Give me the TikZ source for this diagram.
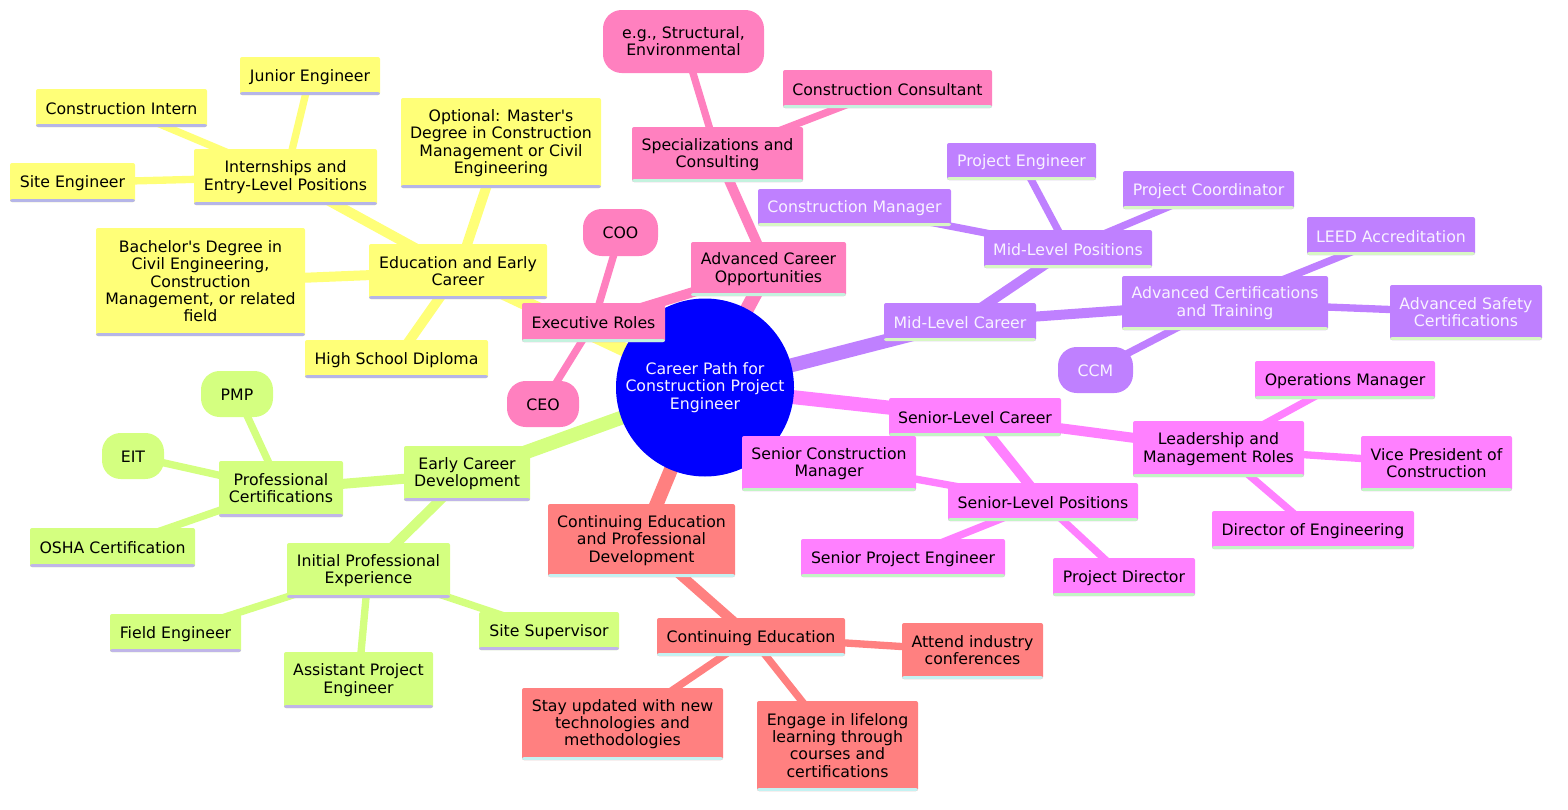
\documentclass[tikz,border=0pt]{standalone}
\usepackage{fontspec}
\setmainfont{DejaVu Sans}
\usetikzlibrary{backgrounds}

\definecolor{yellowfill}{HTML}{FFFF78}
\definecolor{yellowline}{HTML}{B5B5E8}
\definecolor{pinkfill}{HTML}{FF80BF}
\definecolor{pinkline}{HTML}{C4F2DE}
\definecolor{purplefill}{HTML}{BF80FF}
\definecolor{purpleline}{HTML}{D8F7C4}
\definecolor{magentafill}{HTML}{FF80FF}
\definecolor{magentaline}{HTML}{C2F5C4}
\definecolor{salmonfill}{HTML}{FF8080}
\definecolor{salmonline}{HTML}{C4F2F2}
\definecolor{greenfill}{HTML}{D4FF80}
\definecolor{greenline}{HTML}{C0B5E8}
\definecolor{rootblue}{HTML}{0000FF}
\definecolor{paletext}{HTML}{F8F2FF}

\tikzset{
	boxsize/.style 2 args={minimum width=#1*0.75pt,minimum height=#2*0.75pt},
	careertext/.style={align=center,font=\fontsize{11.8}{13}\selectfont,
		execute at begin node={\rule{0pt}{10.6pt}},execute at end node={\rule[-1pt]{0pt}{1pt}}},
	careerbox/.style 2 args={careertext,fill=#1,rounded corners=1.5pt,inner sep=0pt,outer sep=0pt,
		path picture={\fill [#2] ([yshift=2.2pt]path picture bounding box.south west) rectangle (path picture bounding box.south east);}},
	yellowbox/.style={careerbox={yellowfill}{yellowline}},
	pinkbox/.style={careerbox={pinkfill}{pinkline}},
	purplebox/.style={careerbox={purplefill}{purpleline},text=paletext},
	magentabox/.style={careerbox={magentafill}{magentaline}},
	salmonbox/.style={careerbox={salmonfill}{salmonline}},
	greenbox/.style={careerbox={greenfill}{greenline}},
	bubble/.style={rounded corners=14pt,path picture={}},
	rootnode/.style={careertext,circle,fill=rootblue,text=paletext,inner sep=0pt,outer sep=0pt,minimum size=178*0.75pt},
	trunk/.style={line width=10.5pt},
	limb/.style={line width=7.5pt},
	twig/.style={line width=5.5pt}
}

\begin{document}
\begin{tikzpicture}[x=0.75pt,y=0.75pt,yscale=-1,xscale=1]
	\useasboundingbox (0,0) rectangle (1568,810);

	% Root
	\node [rootnode] (root) at (705,387.5) {Career Path for\\Construction Project\\Engineer};

	% Education and Early Career
	\node [yellowbox,boxsize={178}{55}] (education) at (458,271.5) {Education and Early\\Career};
	\node [yellowbox,boxsize={183}{56}] (internships) at (285.5,177) {Internships and\\Entry-Level Positions};
	\node [yellowbox,boxsize={140}{38}] (juniorengineer) at (310,76) {Junior Engineer};
	\node [yellowbox,boxsize={171}{38}] (constructionintern) at (121.5,108) {Construction Intern};
	\node [yellowbox,boxsize={125}{39}] (siteengineer) at (72.5,182.5) {Site Engineer};
	\node [yellowbox,boxsize={209}{108}] (bachelor) at (200.5,282) {Bachelor\textquotesingle s Degree in\\Civil Engineering,\\Construction\\Management, or related\\field};
	\node [yellowbox,boxsize={200}{90}] (masters) at (501,143) {Optional: Master\textquotesingle s\\Degree in Construction\\Management or Civil\\Engineering};
	\node [yellowbox,boxsize={183}{38}] (highschool) at (396.5,359) {High School Diploma};

	% Advanced Career Opportunities
	\node [pinkbox,boxsize={155}{54}] (advanced) at (768.5,269) {Advanced Career\\Opportunities};
	\node [pinkbox,boxsize={143}{39}] (executive) at (593.5,322.5) {Executive Roles};
	\node [pinkbox,bubble,boxsize={75}{47}] (coo) at (620.5,232.5) {COO};
	\node [pinkbox,bubble,boxsize={72}{46}] (ceo) at (543,404) {CEO};
	\node [pinkbox,boxsize={171}{55}] (specializations) at (717.5,154.5) {Specializations and\\Consulting};
	\node [pinkbox,boxsize={209}{38}] (consultant) at (887.5,89) {Construction Consultant};
	\node [pinkbox,bubble,boxsize={161}{63}] (structural) at (683.5,41.5) {e.g., Structural,\\Environmental};

	% Mid-Level Career
	\node [purplebox,boxsize={152}{38}] (midcareer) at (960,322) {Mid-Level Career};
	\node [purplebox,boxsize={168}{38}] (midpositions) at (1068,249) {Mid-Level Positions};
	\node [purplebox,boxsize={193}{37}] (constructionmanager) at (854.5,207.5) {Construction Manager};
	\node [purplebox,boxsize={149}{37}] (projectengineer) at (1021.5,161.5) {Project Engineer};
	\node [purplebox,boxsize={171}{38}] (projectcoordinator) at (1208.5,190) {Project Coordinator};
	\node [purplebox,boxsize={206}{54}] (certifications) at (1225,303) {Advanced Certifications\\and Training};
	\node [purplebox,boxsize={168}{38}] (leed) at (1391,236) {LEED Accreditation};
	\node [purplebox,boxsize={152}{55}] (safety) at (1466,312.5) {Advanced Safety\\Certifications};
	\node [purplebox,bubble,boxsize={75}{46}] (ccm) at (1095.5,370) {CCM};

	% Senior-Level Career
	\node [magentabox,boxsize={172}{38}] (seniorcareer) at (975,417) {Senior-Level Career};
	\node [magentabox,boxsize={171}{56}] (leadership) at (1218.5,449) {Leadership and\\Management Roles};
	\node [magentabox,boxsize={180}{38}] (operations) at (1345,380) {Operations Manager};
	\node [magentabox,boxsize={151}{55}] (vicepresident) at (1436.5,463.5) {Vice President of\\Construction};
	\node [magentabox,boxsize={202}{38}] (director) at (1313,530) {Director of Engineering};
	\node [magentabox,boxsize={190}{38}] (seniorpositions) at (1043,502) {Senior-Level Positions};
	\node [magentabox,boxsize={174}{55}] (seniormanager) at (829,463.5) {Senior Construction\\Manager};
	\node [magentabox,boxsize={204}{38}] (seniorengineer) at (903,558) {Senior Project Engineer};
	\node [magentabox,boxsize={142}{38}] (projectdirector) at (1124,577) {Project Director};

	% Continuing Education
	\node [salmonbox,boxsize={187}{73}] (development) at (641.5,540.5) {Continuing Education\\and Professional\\Development};
	\node [salmonbox,boxsize={188}{38}] (continuing) at (751,637) {Continuing Education};
	\node [salmonbox,boxsize={141}{56}] (conferences) at (972.5,651) {Attend industry\\conferences};
	\node [salmonbox,boxsize={201}{72}] (technologies) at (622.5,724) {Stay updated with new\\technologies and\\methodologies};
	\node [salmonbox,boxsize={161}{90}] (lifelong) at (837.5,746) {Engage in lifelong\\learning through\\courses and\\certifications};

	% Early Career Development
	\node [greenbox,boxsize={126}{55}] (earlycareer) at (467,473.5) {Early Career\\Development};
	\node [greenbox,boxsize={124}{56}] (professional) at (281,489) {Professional\\Certifications};
	\node [greenbox,bubble,boxsize={72}{46}] (pmp) at (237,394) {PMP};
	\node [greenbox,bubble,boxsize={62}{46}] (eit) at (133,456) {EIT};
	\node [greenbox,boxsize={165}{39}] (osha) at (112.5,547.5) {OSHA Certification};
	\node [greenbox,boxsize={163}{55}] (initial) at (368.5,570.5) {Initial Professional\\Experience};
	\node [greenbox,boxsize={131}{38}] (fieldengineer) at (175.5,633) {Field Engineer};
	\node [greenbox,boxsize={140}{38}] (sitesupervisor) at (549,631) {Site Supervisor};
	\node [greenbox,boxsize={149}{56}] (assistant) at (358.5,680) {Assistant Project\\Engineer};

	% Connectors
	\begin{scope}[on background layer]
		\begin{scope}[yellowfill]
			\draw [trunk] (root.center) -- (education.center);
			\draw [limb] (education.center) -- (internships.center);
			\draw [limb] (education.center) -- (bachelor.center);
			\draw [limb] (education.center) -- (masters.center);
			\draw [limb] (education.center) -- (highschool.center);
			\draw [twig] (internships.center) -- (juniorengineer.center);
			\draw [twig] (internships.center) -- (constructionintern.center);
			\draw [twig] (internships.center) -- (siteengineer.center);
		\end{scope}
		\begin{scope}[pinkfill]
			\draw [trunk] (root.center) -- (advanced.center);
			\draw [limb] (advanced.center) -- (executive.center);
			\draw [limb] (advanced.center) -- (specializations.center);
			\draw [twig] (executive.center) -- (coo.center);
			\draw [twig] (executive.center) -- (ceo.center);
			\draw [twig] (specializations.center) -- (consultant.center);
			\draw [twig] (specializations.center) -- (structural.center);
		\end{scope}
		\begin{scope}[purplefill]
			\draw [trunk] (root.center) -- (midcareer.center);
			\draw [limb] (midcareer.center) -- (midpositions.center);
			\draw [limb] (midcareer.center) -- (certifications.center);
			\draw [twig] (midpositions.center) -- (constructionmanager.center);
			\draw [twig] (midpositions.center) -- (projectengineer.center);
			\draw [twig] (midpositions.center) -- (projectcoordinator.center);
			\draw [twig] (certifications.center) -- (leed.center);
			\draw [twig] (certifications.center) -- (safety.center);
			\draw [twig] (certifications.center) -- (ccm.center);
		\end{scope}
		\begin{scope}[magentafill]
			\draw [trunk] (root.center) -- (seniorcareer.center);
			\draw [limb] (seniorcareer.center) -- (leadership.center);
			\draw [limb] (seniorcareer.center) -- (seniorpositions.center);
			\draw [twig] (leadership.center) -- (operations.center);
			\draw [twig] (leadership.center) -- (vicepresident.center);
			\draw [twig] (leadership.center) -- (director.center);
			\draw [twig] (seniorpositions.center) -- (seniormanager.center);
			\draw [twig] (seniorpositions.center) -- (seniorengineer.center);
			\draw [twig] (seniorpositions.center) -- (projectdirector.center);
		\end{scope}
		\begin{scope}[salmonfill]
			\draw [trunk] (root.center) -- (development.center);
			\draw [limb] (development.center) -- (continuing.center);
			\draw [twig] (continuing.center) -- (conferences.center);
			\draw [twig] (continuing.center) -- (technologies.center);
			\draw [twig] (continuing.center) -- (lifelong.center);
		\end{scope}
		\begin{scope}[greenfill]
			\draw [trunk] (root.center) -- (earlycareer.center);
			\draw [limb] (earlycareer.center) -- (professional.center);
			\draw [limb] (earlycareer.center) -- (initial.center);
			\draw [twig] (professional.center) -- (pmp.center);
			\draw [twig] (professional.center) -- (eit.center);
			\draw [twig] (professional.center) -- (osha.center);
			\draw [twig] (initial.center) -- (fieldengineer.center);
			\draw [twig] (initial.center) -- (sitesupervisor.center);
			\draw [twig] (initial.center) -- (assistant.center);
		\end{scope}
	\end{scope}
\end{tikzpicture}
\end{document}
